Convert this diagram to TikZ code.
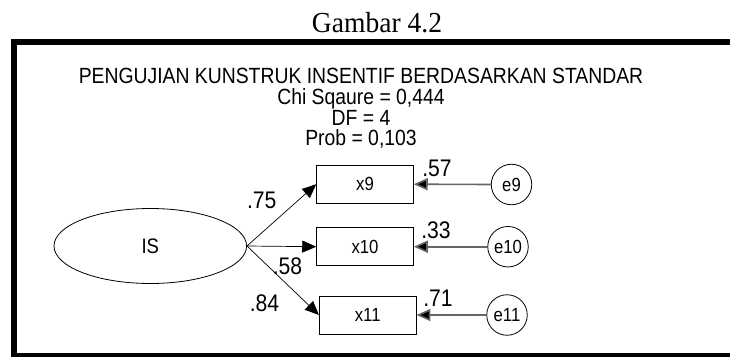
\documentclass[tikz,border=0pt]{standalone}
\usepackage{fontspec}
\setmainfont[FakeStretch=0.88]{Liberation Sans}
\newfontfamily\capfont[FakeStretch=0.95]{Liberation Serif}
\usetikzlibrary{arrows.meta,shapes.geometric}

\tikzset{
  frameline/.style={line width=6pt},
  headtext/.style={font=\fontsize{22}{24}\selectfont, anchor=base, inner sep=0pt},
  latent/.style={ellipse, draw, line width=0.8pt, minimum width=192.6pt, minimum height=75pt, inner sep=0pt, font=\fontsize{21}{22}\selectfont},
  observed/.style={rectangle, draw, line width=0.8pt, minimum width=96.7pt, minimum height=38pt, inner sep=0pt, font=\fontsize{19}{20}\selectfont},
  errnode/.style={circle, draw, line width=0.8pt, minimum size=40.5pt, inner sep=0pt, font=\fontsize{19}{20}\selectfont},
  loading/.style={draw, line width=0.7pt, -{Triangle[length=14pt,width=12pt]}},
  errpath/.style={draw=black!60, line width=1.6pt, -{Triangle[length=14pt,width=12pt,fill=black]}},
  coef/.style={font=\fontsize{24}{26}\selectfont, inner sep=0pt}
}

\begin{document}
\begin{tikzpicture}[x=1pt,y=-1pt]
  \useasboundingbox (0,0) rectangle (730,356);
  \clip (0,0) rectangle (730,356);

  % caption above the framed panel
  \node[anchor=base, inner sep=0pt, font=\capfont\fontsize{29}{30}\selectfont] (caption) at (377,32) {Gambar 4.2};

  % heavy frame, running past the right and bottom edges
  \draw[frameline] (14,41.5) rectangle (780,356);

  % model heading and fit statistics
  \node[headtext] (head)  at (361,83.3)  {PENGUJIAN KUNSTRUK INSENTIF BERDASARKAN STANDAR};
  \node[headtext] (chisq) at (361,104.5) {Chi Sqaure = 0,444};
  \node[headtext] (df)    at (361,125)   {DF = 4};
  \node[headtext] (prob)  at (361,145.5) {Prob = 0,103};

  % latent construct
  \node[latent] (IS) at (150.3,246) {IS};

  % indicators
  \node[observed] (x9)  at (365,184.2)   {x9};
  \node[observed] (x10) at (365,246.7)   {x10};
  \node[observed] (x11) at (367.7,315)   {x11};

  % error terms
  \node[errnode] (e9)  at (511.5,184.5) {e9};
  \node[errnode] (e10) at (508,246.7)   {e10};
  \node[errnode] (e11) at (507,315)     {e11};

  % factor loadings
  \path[loading] (IS.east) -- (x9.west);
  \path[loading] (IS.east) -- (x10.west);
  \path[loading] (IS.east) -- (x11.west);

  % error paths
  \path[errpath] (e9.west)  -- (x9.east);
  \path[errpath] (e10.west) -- (x10.east);
  \path[errpath] (e11.west) -- (x11.east);

  % standardized estimates
  \node[coef] (l9)  at (261.7,200)   {.75};
  \node[coef] (l10) at (287.5,266.5) {.58};
  \node[coef] (l11) at (264.5,303)   {.84};
  \node[coef] (r9)  at (437,168)     {.57};
  \node[coef] (r10) at (436,230)     {.33};
  \node[coef] (r11) at (438,298)     {.71};
\end{tikzpicture}
\end{document}
